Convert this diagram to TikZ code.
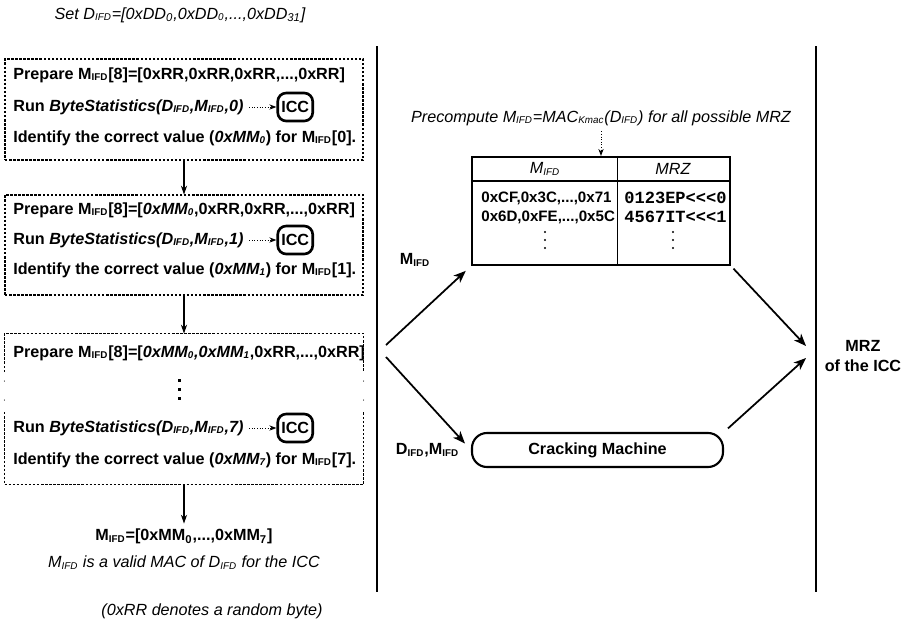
\documentclass[tikz,border=0pt]{standalone}
\usepackage{fontspec}
\setmainfont{Liberation Sans}
\setmonofont{Liberation Mono}
\usetikzlibrary{arrows.meta,positioning,calc}

\AtBeginDocument{\fontsize{9.2}{11}\selectfont}
\newcommand{\lo}[1]{\textsubscript{\fontsize{5.6}{6}\selectfont #1}}
\newcommand{\ifd}{\lo{IFD}}

\begin{document}
\begin{tikzpicture}[node distance=1cm, auto]

% Define styles
\tikzstyle{stepline} = [line width=0.6pt, dash pattern=on 1.4pt off 0.9pt]
\tikzstyle{stepbox} = [rectangle, draw=black, stepline, minimum width=7.16cm]
\tikzstyle{steptext} = [anchor=west, inner sep=0pt, font=\bfseries]
\tikzstyle{icc} = [rectangle, rounded corners=0.17cm, draw=black, line width=1.5pt, minimum width=0.7cm, minimum height=0.56cm, inner sep=1pt, font=\bfseries]
\tikzstyle{note} = [font=\itshape]
\tikzstyle{dotarrow} = [densely dotted, line width=0.5pt, ->, >={Stealth[length=4pt, width=3pt]}]
\tikzstyle{arrow} = [line width=0.6pt, ->, >={Stealth[length=5pt, width=3.5pt]}]
\tikzstyle{bigarrow} = [line width=1pt, ->, >={Stealth[length=7pt, width=5.5pt, inset=2pt]}]
\tikzstyle{divider} = [line width=1.2pt]

\useasboundingbox (0,0) rectangle (18.32,-12.58);

% Top: the input data
\node (setd) [note] at (3.6,-0.3) {Set D\ifd=[0xDD\textsubscript{0},0xDD\lo{0},...,0xDD\textsubscript{31}]};

% Step 1
\node (box1) [stepbox, minimum height=2.02cm] at (3.68,-2.19) {};
\node (prep1) [steptext] at (0.26,-1.5) {Prepare M\ifd[8]=[0xRR,0xRR,0xRR,...,0xRR]};
\node (run1) [steptext] at (0.26,-2.14) {Run \textit{ByteStatistics(D\ifd,M\ifd,0)}};
\node (icc1) [icc, right=0.65cm of run1] {ICC};
\draw [dotarrow, shorten <=3pt] (run1) -- (icc1);
\node (id1) [steptext] at (0.26,-2.76) {Identify the correct value (\textit{0xMM\lo{0}}) for M\ifd[0].};

% Step 2
\node (box2) [stepbox, minimum height=2cm] at (3.68,-4.9) {};
\node (prep2) [steptext] at (0.26,-4.2) {Prepare M\ifd[8]=[\textit{0xMM\lo{0}},0xRR,0xRR,...,0xRR]};
\node (run2) [steptext] at (0.26,-4.8) {Run \textit{ByteStatistics(D\ifd,M\ifd,1)}};
\node (icc2) [icc, right=0.65cm of run2] {ICC};
\draw [dotarrow, shorten <=3pt] (run2) -- (icc2);
\node (id2) [steptext] at (0.26,-5.4) {Identify the correct value (\textit{0xMM\lo{1}}) for M\ifd[1].};

% Step 3 (open sides around the dots)
\node (box3) [stepbox, draw=none, minimum height=3cm] at (3.68,-8.18) {};
\draw [stepline] ($(box3.west)+(0,0.74)$) |- (box3.north) -| ($(box3.east)+(0,0.74)$);
\draw [stepline] ($(box3.west)+(0,-0.06)$) |- (box3.south) -| ($(box3.east)+(0,-0.06)$);
\foreach \y in {0.56,0.18} {
  \fill ($(box3.west)+(0,\y)$) circle (0.3pt);
  \fill ($(box3.east)+(0,\y)$) circle (0.3pt);
}
\node (prep3) [steptext] at (0.26,-7.06) {Prepare M\ifd[8]=[\textit{0xMM\lo{0},0xMM\lo{1}},0xRR,...,0xRR]};
\foreach \y in {-7.58,-7.76,-7.94}
  \fill (3.55,\y) rectangle ++(0.06,-0.06);
\node (run3) [steptext] at (0.26,-8.56) {Run \textit{ByteStatistics(D\ifd,M\ifd,7)}};
\node (icc3) [icc, right=0.65cm of run3] {ICC};
\draw [dotarrow, shorten <=3pt] (run3) -- (icc3);
\node (id3) [steptext] at (0.26,-9.2) {Identify the correct value (\textit{0xMM\lo{7}}) for M\ifd[7].};

% Flow between the steps
\draw [arrow] (box1) -- (box2);
\draw [arrow] (box2) -- (box3);

% Outcome
\node (result) [font=\bfseries, below=0.78cm of box3] {M\ifd=[0xMM\textsubscript{0},...,0xMM\textsubscript{7}]};
\draw [arrow] (box3) -- (result);
\node (valid) [note, below=0cm of result] {M\ifd{} is a valid MAC of D\ifd{} for the ICC};
\node (randnote) [note] at (4.24,-12.22) {(0xRR denotes a random byte)};

% Separators
\draw [divider] (7.54,-0.92) -- (7.54,-11.84);
\draw [divider] (16.32,-0.92) -- (16.32,-11.84);

% Precomputed table
\node (precomp) [note] at (12.02,-2.36) {Precompute M\ifd=MAC\lo{Kmac}(D\ifd) for all possible MRZ};
\node (mactab) [draw=black, line width=1.2pt, minimum width=5.16cm, minimum height=2.16cm, inner sep=0pt] at (12.02,-4.22) {};
\draw [dotarrow] (precomp) -- (mactab);
\draw [line width=0.9pt] ($(mactab.north west)+(0,-0.5)$) -- ($(mactab.north east)+(0,-0.5)$);
\draw [line width=0.9pt] ($(mactab.north)+(0.33,0)$) -- ($(mactab.south)+(0.33,0)$);
\node (hmac) [note] at (10.9,-3.38) {M\ifd};
\node (hmrz) [note] at (13.46,-3.38) {MRZ};
\node (macs) [font=\fontsize{8.6}{10.8}\selectfont\bfseries, align=left, anchor=west, inner sep=0pt] at (9.62,-4.15) {0xCF,0x3C,...,0x71\\0x6D,0xFE,...,0x5C};
\node (mrzs) [font=\fontsize{9.7}{10.8}\selectfont\ttfamily\bfseries, align=left, anchor=west, inner sep=0pt] at (12.48,-4.15) {0123EP<<<0\\4567IT<<<1};
% more rows follow
\foreach \x in {10.9,13.46}
  \foreach \y in {-4.64,-4.8,-4.96}
    \fill (\x,\y) circle (0.6pt);

% Cracking machine
\node (cracking) [rectangle, rounded corners=0.3cm, draw=black, line width=1.2pt, minimum width=5.02cm, minimum height=0.68cm, font=\bfseries] at (11.95,-9.0) {Cracking Machine};

% Result on the right
\node (mrz) [font=\bfseries, align=center] at (17.26,-7.12) {MRZ\\of the ICC};

% Inputs and outputs
\coordinate (forkup) at (7.72,-6.9);
\coordinate (forkdown) at (7.72,-7.14);
\coordinate (mrzup) at (16.12,-6.92);
\coordinate (mrzdown) at (16.12,-7.16);
\node (lblm) [font=\bfseries] at (8.3,-5.2) {M\ifd};
\node (lbld) [font=\bfseries] at (8.55,-9.0) {D\ifd,M\ifd};
\draw [bigarrow, shorten >=4pt] (forkup) -- (mactab.south west);
\draw [bigarrow, shorten >=5pt] (forkdown) -- (cracking.west);
\draw [bigarrow, shorten <=2pt] (mactab.south east) -- (mrzup);
\draw [bigarrow, shorten <=3pt] (cracking.north east) -- (mrzdown);

\end{tikzpicture}
\end{document}
